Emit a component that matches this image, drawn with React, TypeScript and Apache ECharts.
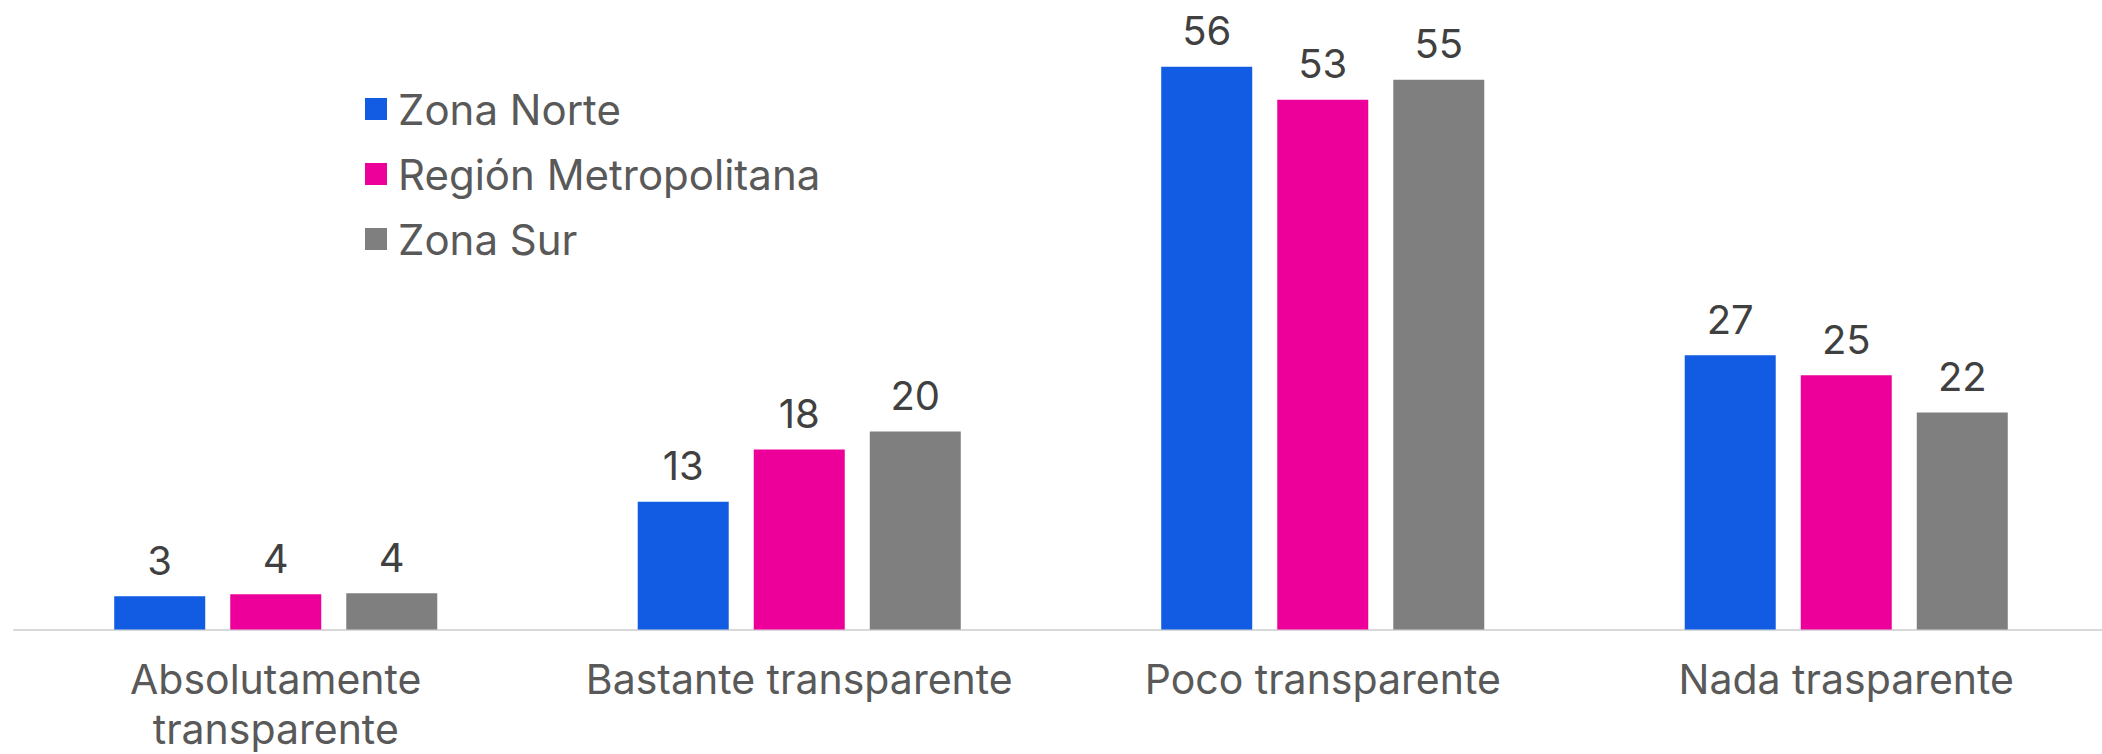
import React, { useEffect, useRef } from "react";
import * as echarts from "echarts";

const categories = [
  "Absolutamente transparente",
  "Bastante transparente",
  "Poco transparente",
  "Nada trasparente",
];
const seriesNames = ["Zona Norte", "Región Metropolitana", "Zona Sur"];
const zonaNorte = [3.3, 12.7, 56.0, 27.3];
const regionMetropolitana = [3.5, 17.9, 52.7, 25.3];
const zonaSur = [3.6, 19.7, 54.7, 21.6];
const colors = ["#115CE3", "#EC0099", "#7F7F7F"];

const FONT = "Inter, 'Open Sans', sans-serif";

export default function App() {
  const ref = useRef<HTMLDivElement>(null);
  useEffect(() => {
    if (!ref.current) return;
    const chart = echarts.init(ref.current, undefined, { renderer: "svg" });
    const values = [zonaNorte, regionMetropolitana, zonaSur];
    chart.setOption({
      animation: false,
      backgroundColor: "#ffffff",
      legend: {
        orient: "vertical",
        left: 365,
        top: 87,
        padding: 0,
        itemWidth: 22,
        itemHeight: 22,
        itemGap: 21,
        icon: "rect",
        textStyle: {
          fontFamily: FONT,
          fontSize: 42,
          color: "#595959",
          lineHeight: 44,
          padding: [0, 0, 0, 6],
        },
        data: seriesNames,
      },
      grid: {
        left: 14,
        top: 26.5,
        width: 2094,
        bottom: 124.5,
        containLabel: false,
      },
      xAxis: {
        type: "category",
        data: categories,
        axisLine: { show: true, lineStyle: { color: "#D9D9D9", width: 2 } },
        axisTick: { show: false },
        axisLabel: {
          fontFamily: FONT,
          fontSize: 41,
          color: "#595959",
          lineHeight: 50,
          margin: 24,
          interval: 0,
          formatter: (v: string) => (v.length > 24 ? v.replace(" ", "\n") : v),
        },
      },
      yAxis: {
        type: "value",
        min: 0,
        max: 60,
        show: false,
        splitLine: { show: false },
      },
      series: seriesNames.map((name, i) => ({
        name,
        type: "bar",
        data: values[i],
        barWidth: 91,
        barGap: "27.5%",
        itemStyle: { color: colors[i] },
        label: {
          show: true,
          position: "top",
          distance: 16,
          fontFamily: FONT,
          fontSize: 40,
          color: "#404040",
          formatter: (p: any) => String(Math.round(p.value)),
        },
      })),
    });
    return () => chart.dispose();
  }, []);
  return (
    <div
      style={{
        position: "fixed",
        left: 0,
        top: 0,
        width: 2102,
        height: 754,
        overflow: "hidden",
        background: "#ffffff",
      }}
    >
      <div ref={ref} style={{ width: 2120, height: 754 }} />
    </div>
  );
}
